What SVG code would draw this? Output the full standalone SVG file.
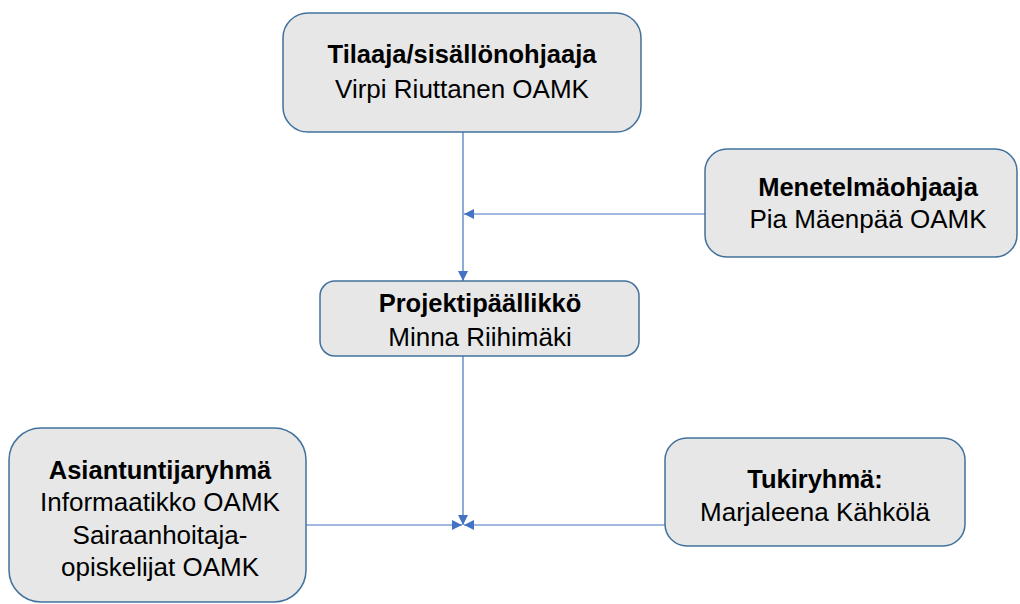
<svg xmlns="http://www.w3.org/2000/svg" width="1020" height="604" viewBox="0 0 1020 604">
<style>
.box{fill:#e7e7e7;stroke:#41719c;stroke-width:1.5}
.t{font-family:"Liberation Sans",Arial,sans-serif;font-size:26px;fill:#000;text-anchor:middle}
.b{font-weight:bold;font-size:25.5px}
.c{stroke:#4472c4;stroke-width:1.2;fill:none}
</style>
<defs>
<marker id="ah" viewBox="0 0 10 10" refX="10" refY="5" markerWidth="10" markerHeight="10" markerUnits="userSpaceOnUse" orient="auto">
<path d="M0,0 L10,5 L0,10 z" fill="#4472c4"/>
</marker>
</defs>
<rect x="0" y="0" width="1020" height="604" fill="#fff"/>
<g id="connectors">
<line class="c" x1="463" y1="132" x2="463" y2="281" marker-end="url(#ah)"/>
<line class="c" x1="705" y1="214" x2="464" y2="214" marker-end="url(#ah)"/>
<line class="c" x1="463" y1="356" x2="463" y2="525" marker-end="url(#ah)"/>
<line class="c" x1="306" y1="525" x2="462" y2="525" marker-end="url(#ah)"/>
<line class="c" x1="665" y1="525" x2="464" y2="525" marker-end="url(#ah)"/>
</g>
<g id="tilaaja">
<rect class="box" x="283" y="13" width="358" height="119" rx="25"/>
<text class="t b" x="462" y="63">Tilaaja/sisällönohjaaja</text>
<text class="t" x="462" y="98">Virpi Riuttanen OAMK</text>
</g>
<g id="menetelma">
<rect class="box" x="705" y="149" width="312" height="108" rx="22"/>
<text class="t b" x="868" y="196">Menetelmäohjaaja</text>
<text class="t" x="868" y="228">Pia Mäenpää OAMK</text>
</g>
<g id="projekti">
<rect class="box" x="320" y="281" width="319" height="75" rx="15"/>
<text class="t b" x="480" y="312">Projektipäällikkö</text>
<text class="t" x="480" y="346">Minna Riihimäki</text>
</g>
<g id="asiantuntija">
<rect class="box" x="9" y="428" width="297" height="174" rx="32"/>
<text class="t b" x="160" y="479">Asiantuntijaryhmä</text>
<text class="t" x="160" y="511">Informaatikko OAMK</text>
<text class="t" x="160" y="544">Sairaanhoitaja-</text>
<text class="t" x="160" y="576">opiskelijat OAMK</text>
</g>
<g id="tuki">
<rect class="box" x="665" y="438" width="300" height="108" rx="22"/>
<text class="t b" x="815" y="488">Tukiryhmä:</text>
<text class="t" x="815" y="521">Marjaleena Kähkölä</text>
</g>
</svg>
